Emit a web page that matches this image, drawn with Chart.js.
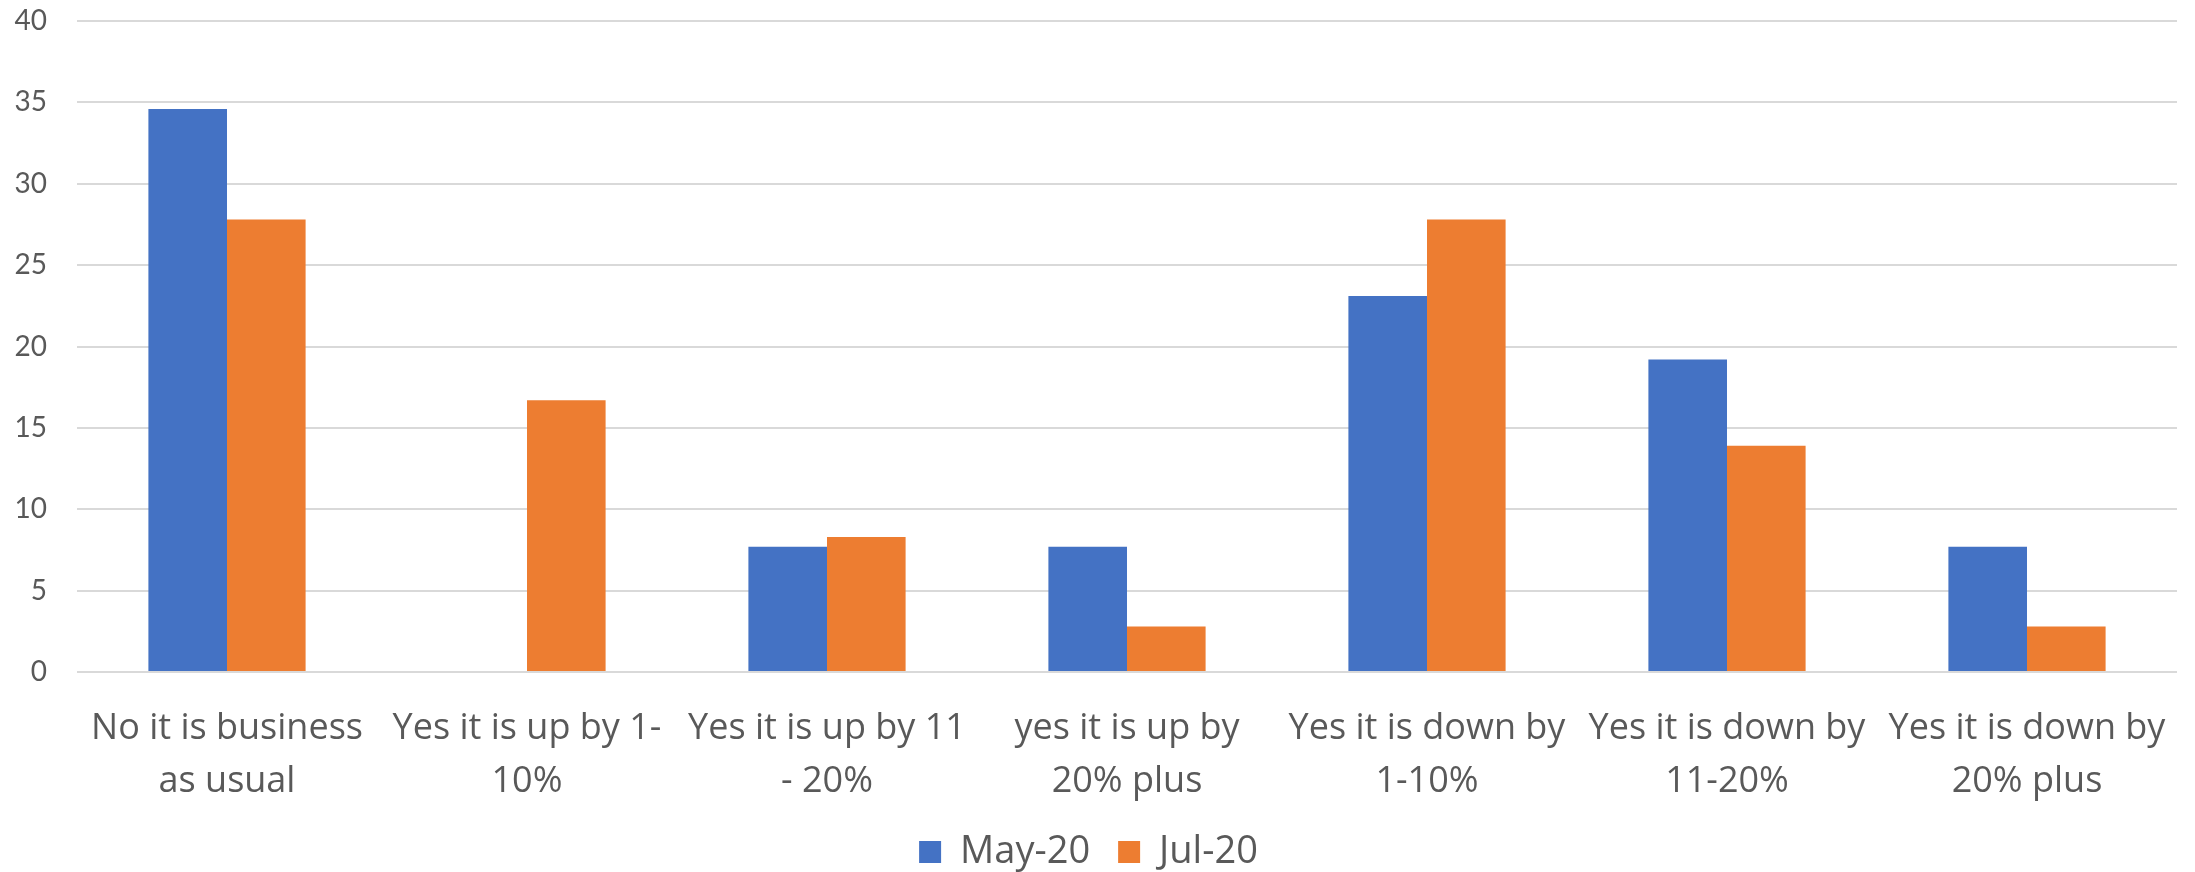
<!DOCTYPE html>
<html lang="en">
<head>
  <meta charset="UTF-8" />
  <title>Business change May-20 vs Jul-20</title>
  <script src="https://cdn.jsdelivr.net/npm/chart.js"></script>
  <style>
    html, body {
      margin: 0;
      padding: 0;
      background: #fff;
    }
    .wrap {
      width: 2195px;
      height: 872px;
    }
  </style>
</head>
<body>
  <div class="wrap">
    <canvas id="barChart" width="2195" height="872"></canvas>
  </div>

  <script>
    // categories (two-line labels as in the original)
    const categories = [
      ["No it is business", "as usual"],
      ["Yes it is up by 1-", "10%"],
      ["Yes it is up by 11", "- 20%"],
      ["yes it is up by", "20% plus"],
      ["Yes it is down by", "1-10%"],
      ["Yes it is down by", "11-20%"],
      ["Yes it is down by", "20% plus"]
    ];

    // series values (%)
    const may20 = [34.6, 0, 7.7, 7.7, 23.1, 19.2, 7.7];
    const jul20 = [27.8, 16.7, 8.3, 2.8, 27.8, 13.9, 2.8];

    const seriesNames = ["May-20", "Jul-20"];
    const yTicks = [0, 5, 10, 15, 20, 25, 30, 35, 40];

    const textColor = "#595959";
    const gridColor = "#d9d9d9";

    const ctx = document.getElementById("barChart").getContext("2d");
    const chart = new Chart(ctx, {
      type: "bar",
      data: {
        labels: categories,
        datasets: [
          {
            label: seriesNames[0],
            data: may20,
            backgroundColor: "#4472C4",
            borderWidth: 0
          },
          {
            label: seriesNames[1],
            data: jul20,
            backgroundColor: "#ED7D31",
            borderWidth: 0
          }
        ]
      },
      options: {
        responsive: false,
        animation: false,
        datasets: {
          bar: {
            barPercentage: 1.0,
            categoryPercentage: 0.524
          }
        },
        layout: {
          padding: { top: 21, right: 18, bottom: -9, left: 0 }
        },
        plugins: {
          tooltip: { enabled: false },
          legend: {
            position: "bottom",
            labels: {
              color: textColor,
              font: { family: "Open Sans", size: 38 },
              boxWidth: 22,
              boxHeight: 22,
              padding: 28
            }
          }
        },
        scales: {
          x: {
            grid: { display: false, drawTicks: false },
            border: { display: false },
            ticks: {
              color: textColor,
              font: { family: "Open Sans", size: 36, lineHeight: 1.45 },
              padding: 31,
              maxRotation: 0,
              minRotation: 0,
              autoSkip: false
            },
            afterFit: (scale) => {
              scale.height = 133;
              scale.paddingLeft = 0;
              scale.paddingRight = 0;
            }
          },
          y: {
            min: 0,
            max: 40,
            afterBuildTicks: (scale) => {
              scale.ticks = yTicks.map(v => ({ value: v }));
            },
            grid: {
              color: gridColor,
              lineWidth: 2,
              drawTicks: false
            },
            border: { display: false },
            ticks: {
              color: textColor,
              font: { family: "Lato", size: 28 },
              padding: 30
            },
            afterFit: (scale) => {
              scale.width = 77;
              scale.paddingTop = 0;
              scale.paddingBottom = 0;
            }
          }
        }
      }
    });
  </script>
</body>
</html>
